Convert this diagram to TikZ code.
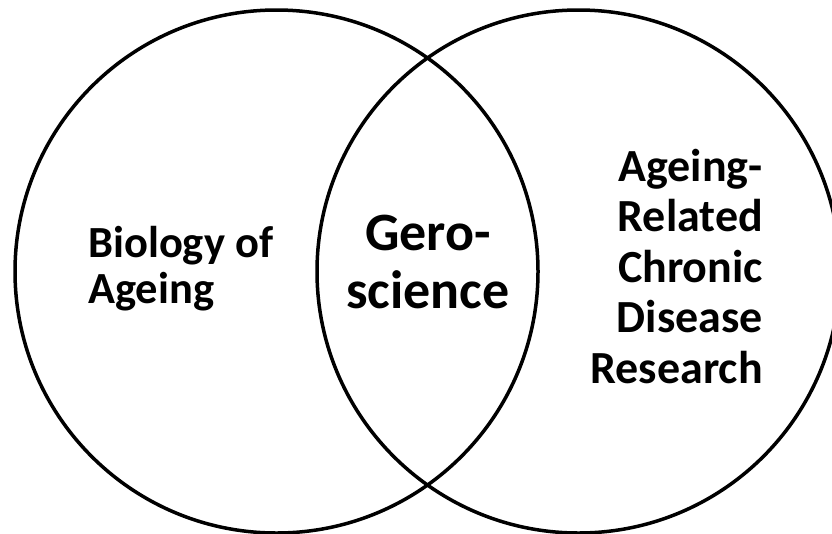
\documentclass[tikz,border=0pt]{standalone}
\usepackage{fontspec}
\setmainfont{Carlito}
\begin{document}
\begin{tikzpicture}[x=1pt,y=-1pt,
  ring/.style={draw=black,line width=3.5pt},
  lbl/.style={inner sep=0pt,font=\bfseries}]
\useasboundingbox (0,0) rectangle (832,533);
\clip (0,0) rectangle (832,533);
\fill[white] (0,0) rectangle (832,533);
\node[ring,circle,minimum size=523pt,inner sep=0pt,outer sep=0pt] (L) at (276.5,271.5) {};
\node[ring,circle,minimum size=523pt,inner sep=0pt,outer sep=0pt] (R) at (578.5,271.5) {};
\node[lbl,align=left,anchor=base west,font=\bfseries\fontsize{44.5}{46}\selectfont] (bio) at (88,303) {Biology of\\Ageing};
\node[lbl,align=center,anchor=base,font=\bfseries\fontsize{54}{58}\selectfont] (gero) at (428,308) {Gero-\\science};
\node[lbl,align=right,anchor=base east,font=\bfseries\fontsize{46}{50.5}\selectfont] (dis) at (763,383) {Ageing-\\Related\\Chronic\\Disease\\Research};
\end{tikzpicture}
\end{document}
